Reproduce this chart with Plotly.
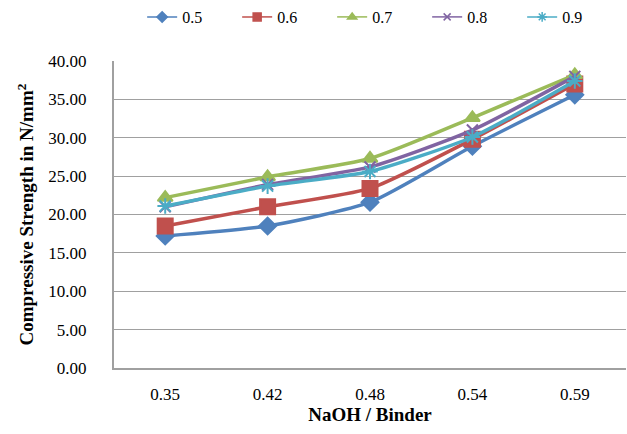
import plotly.graph_objects as go

categories = ["0.35", "0.42", "0.48", "0.54", "0.59"]
series_names = ["0.5", "0.6", "0.7", "0.8", "0.9"]
s05 = [17.2, 18.5, 21.6, 28.9, 35.6]
s06 = [18.5, 21.0, 23.4, 29.8, 37.0]
s07 = [22.2, 24.9, 27.3, 32.6, 38.2]
s08 = [21.0, 23.9, 26.2, 31.0, 38.0]
s09 = [21.1, 23.7, 25.6, 30.1, 37.4]
values = [s05, s06, s07, s08, s09]

colors = ["#4F81BD", "#C0504D", "#9BBB59", "#8064A2", "#4BACC6"]
symbols = ["diamond", "square", "triangle-up", "x-thin", "asterisk"]
sizes = [13, 15, 13, 11, 13]
leg_sizes = [8, 8, 8, 7, 8]

fig = go.Figure()
for name, vals, c, sym, sz in zip(series_names, values, colors, symbols, sizes):
    fig.add_trace(go.Scatter(
        x=categories, y=vals, name=name, mode="lines+markers", showlegend=False,
        line=dict(color=c, width=3.5, shape="spline", smoothing=0.6),
        marker=dict(symbol=sym, size=sz, color=c, line=dict(color=c, width=2)),
    ))
# legend-only entries with small symbols, like the reference legend
for name, c, sym, sz in zip(series_names, colors, symbols, leg_sizes):
    fig.add_trace(go.Scatter(
        x=[None], y=[None], name=name, mode="lines+markers",
        line=dict(color=c, width=1.5),
        marker=dict(symbol=sym, size=sz, color=c, line=dict(color=c, width=1.5)),
    ))

font = "Liberation Serif, Times New Roman, serif"
fig.update_layout(
    width=627, height=434,
    margin=dict(l=114, r=1, t=61, b=66),
    paper_bgcolor="white", plot_bgcolor="white",
    font=dict(family=font, size=17, color="black"),
    showlegend=True,
    legend=dict(orientation="h", x=0.055, xanchor="left", y=1 - 17 / 434, yanchor="middle",
                yref="container", font=dict(size=16, family=font),
                entrywidth=50, entrywidthmode="pixels", bgcolor="rgba(0,0,0,0)"),
    xaxis=dict(type="category", range=[-0.5, 4.5], showgrid=False, showline=True,
               linecolor="#A0A0A0", linewidth=2, ticks="", tickfont=dict(size=17),
               ticklabelstandoff=10,
               title=dict(text="<b>NaOH / Binder</b>", font=dict(size=19), standoff=2)),
    yaxis=dict(range=[0, 40], dtick=5, tickformat=".2f", showgrid=True,
               gridcolor="#A0A0A0", gridwidth=1, showline=True, linecolor="#A0A0A0",
               linewidth=2, ticks="", tickfont=dict(size=17), zeroline=False,
               ticklabelstandoff=22),
    annotations=[dict(text="<b>Compressive Strength in N/mm<sup>2</sup></b>",
                      xref="paper", yref="paper", x=(25 - 114) / 512, y=0.5,
                      xanchor="center", yanchor="middle", textangle=-90,
                      showarrow=False, font=dict(size=19, family=font))],
)

fig.write_html("out.html")
